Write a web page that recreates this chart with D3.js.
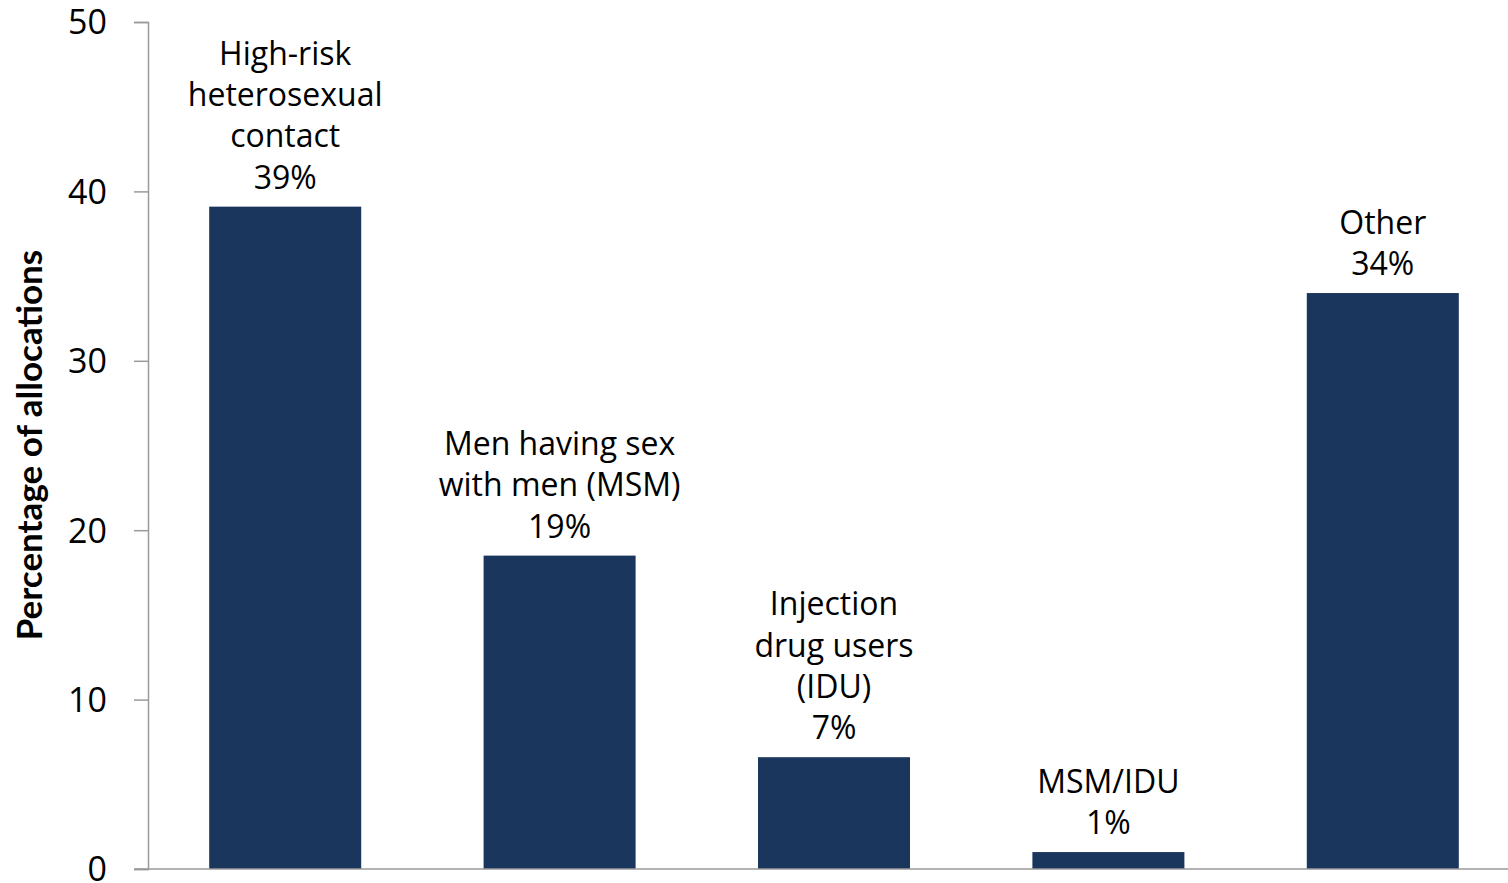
<!DOCTYPE html>
<html><head><meta charset="utf-8">
<script src="https://cdn.jsdelivr.net/npm/d3@7"></script>
<style>body{margin:0;background:#fff;} svg{display:block;}</style>
</head><body>
<svg id="c" width="1508" height="883"></svg>
<script>
const categories = ["High-risk heterosexual contact","Men having sex with men (MSM)","Injection drug users (IDU)","MSM/IDU","Other"];
const values = [39.1, 18.5, 6.6, 1.0, 34.0];
const labelLines = [
  ["High-risk","heterosexual","contact","39%"],
  ["Men having sex","with men (MSM)","19%"],
  ["Injection","drug users","(IDU)","7%"],
  ["MSM/IDU","1%"],
  ["Other","34%"]
];
const yTicks = [0,10,20,30,40,50];
const yTitle = "Percentage of allocations";

(function(){
const svg = d3.select("#c");
const mL = 148, mR = 1520, mT = 22, mB = 869;
const font = "'Open Sans', sans-serif";
const x = d3.scaleBand().domain(categories).range([mL, mR]).paddingInner(0.446).paddingOuter(0.223);
const y = d3.scaleLinear().domain([0,50]).range([mB, mT]);

svg.selectAll("rect.bar").data(values).join("rect")
  .attr("class","bar")
  .attr("x",(d,i)=>x(categories[i]))
  .attr("width",x.bandwidth())
  .attr("y",d=>y(d))
  .attr("height",d=>mB-y(d))
  .attr("fill","#1b365d");

const ya = svg.append("g").attr("transform",`translate(${mL},0)`)
  .call(d3.axisLeft(y).tickValues(yTicks).tickSize(14).tickPadding(27));
ya.select(".domain").attr("stroke","#9a9a9a").attr("stroke-width",1.5);
ya.selectAll(".tick line").attr("stroke","#9a9a9a").attr("stroke-width",1.5);
ya.selectAll(".tick text").attr("font-family",font).attr("font-size",34).attr("fill","#000").attr("dy","0.35em");

svg.append("line").attr("x1",mL-14).attr("x2",1508).attr("y1",mB).attr("y2",mB)
  .attr("stroke","#9a9a9a").attr("stroke-width",1.5);

const lh = 41.3;
labelLines.forEach((lines,i)=>{
  const cx = x(categories[i]) + x.bandwidth()/2;
  const lastBase = y(values[i]) - 18;
  const t = svg.append("text").attr("text-anchor","middle").attr("font-family",font)
    .attr("font-size",32).attr("fill","#000");
  lines.forEach((ln,j)=>{
    t.append("tspan").attr("x",cx).attr("y",lastBase - (lines.length-1-j)*lh).text(ln);
  });
});

svg.append("text").attr("transform",`translate(42,${445}) rotate(-90)`)
  .attr("text-anchor","middle").attr("font-family","Lato, sans-serif").attr("font-weight","bold")
  .attr("font-size",35).attr("fill","#000").text(yTitle);
})();
</script>
</body></html>
